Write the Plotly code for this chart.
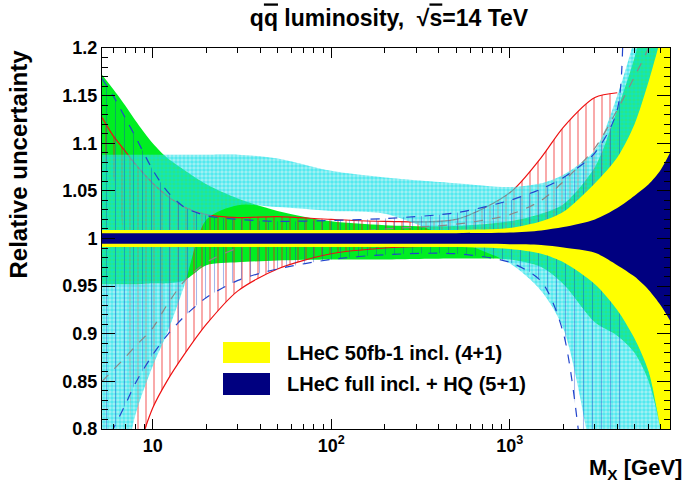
import math
import plotly.graph_objects as go

# Dilepton-mass grid (GeV) on which the relative uncertainties are given
mass = [5.2, 6, 7, 8, 10, 12, 15, 20, 30, 50, 100, 200, 500,
        1000, 1500, 2000, 3000, 4000, 5000, 6000, 7000, 7900]

# LHeC full inclusive + heavy-quark fit (5+1)
full_hi = [1.0056] * 13 + [1.0062, 1.0085, 1.012, 1.020, 1.032, 1.045, 1.057, 1.072, 1.090]
full_lo = [0.9944] * 13 + [0.9940, 0.9932, 0.9905, 0.985, 0.972, 0.960, 0.946, 0.930, 0.914]

# LHeC 50 fb-1 inclusive fit (4+1)
lhec50_hi = [1.009] * 13 + [1.011, 1.018, 1.028, 1.058, 1.085, 1.120, 1.165, 1.210, 1.250]
lhec50_lo = [0.991] * 13 + [0.989, 0.984, 0.975, 0.952, 0.925, 0.895, 0.860, 0.800, 0.750]

# Global PDF sets shown for comparison
green_hi = [1.172, 1.157, 1.140, 1.124, 1.100, 1.085, 1.072, 1.057, 1.042, 1.029, 1.018,
            1.014, 1.013, 1.018, 1.026, 1.036, 1.075, 1.135, 1.190, 1.250, 1.300, 1.350]
green_lo = [0.952, 0.952, 0.952, 0.952, 0.953, 0.953, 0.956, 0.972, 0.975, 0.977, 0.978,
            0.978, 0.979, 0.978, 0.970, 0.952, 0.912, 0.898, 0.880, 0.850, 0.800, 0.750]

cyan_hi = [1.088, 1.088, 1.088, 1.088, 1.088, 1.088, 1.088, 1.088, 1.088, 1.084, 1.071,
           1.064, 1.058, 1.054, 1.058, 1.067, 1.093, 1.150, 1.210, 1.270, 1.330, 1.380]
cyan_lo = [0.600, 0.680, 0.760, 0.815, 0.866, 0.900, 0.950, 1.020, 1.035, 1.033, 1.029,
           1.026, 0.998, 0.974, 0.945, 0.905, 0.750, 0.600, 0.500, 0.450, 0.400, 0.350]

red_mass = mass[:18]
red_hi = [1.127, 1.108, 1.092, 1.078, 1.058, 1.045, 1.033, 1.025, 1.022, 1.023, 1.020,
          1.018, 1.020, 1.048, 1.085, 1.117, 1.148, 1.153]
red_lo = [1.085, 1.065, 0.990, 0.770, 0.822, 0.850, 0.878, 0.910, 0.945, 0.968, 0.984,
          0.990, 0.993, 0.995, 0.995, 0.995, 0.995, 0.995]

blue_mass = mass[:18] + [4300]
blue_hi = [1.168, 1.150, 1.127, 1.107, 1.072, 1.050, 1.033, 1.024, 1.020, 1.018, 1.019,
           1.021, 1.027, 1.040, 1.052, 1.064, 1.090, 1.135, 1.300]
blue_lo = [0.780, 0.800, 0.825, 0.848, 0.878, 0.898, 0.918, 0.938, 0.956, 0.968, 0.978,
           0.983, 0.984, 0.975, 0.955, 0.900, 0.650, 0.500, 0.450]

grey_line = [0.850, 0.862, 0.875, 0.887, 0.906, 0.930, 0.955, 0.975, 0.990, 1.000, 1.005,
             1.010, 1.015, 1.025, 1.040, 1.060, 1.095, 1.135, 1.170, 1.200, 1.230, 1.260]

y_ticks = [0.8, 0.85, 0.9, 0.95, 1.0, 1.05, 1.1, 1.15, 1.2]
y_ticktext = ["0.8", "0.85", "0.9", "0.95", "1", "1.05", "1.1", "1.15", "1.2"]
x_ticks = [10, 100, 1000]
x_ticktext = ["10", "10<sup>2</sup>", "10<sup>3</sup>"]

legend_labels = ["LHeC 50fb-1 incl. (4+1)", "LHeC full incl. + HQ (5+1)"]

FONT = "Liberation Sans"
SPLINE = dict(shape="spline", smoothing=0.8)
fig = go.Figure()


def add_fill(xs, lo, hi, fillcolor=None, pattern=None):
    nol = dict(width=0, color="rgba(0,0,0,0)", **SPLINE)
    fig.add_trace(go.Scatter(x=xs, y=lo, mode="lines", line=nol,
                             showlegend=False, hoverinfo="skip"))
    kw = dict(x=xs, y=hi, mode="lines", line=nol, fill="tonexty",
              showlegend=False, hoverinfo="skip")
    if pattern:
        kw["fillpattern"] = pattern
        kw["fillcolor"] = "rgba(0,0,0,0)"
    else:
        kw["fillcolor"] = fillcolor
    fig.add_trace(go.Scatter(**kw))


def add_edge(xs, ys, color, dash="solid", width=1.2):
    fig.add_trace(go.Scatter(x=xs, y=ys, mode="lines", showlegend=False, hoverinfo="skip",
                             line=dict(color=color, width=width, dash=dash, **SPLINE)))


add_fill(mass, green_lo, green_hi, fillcolor="#00ee22")

add_fill(red_mass, red_lo, red_hi,
         pattern=dict(shape="|", fgcolor="#ee1111", bgcolor="rgba(0,0,0,0)", size=8, solidity=0.18))
add_edge(red_mass, red_hi, "#ee1111")
add_edge(red_mass[3:], red_lo[3:], "#ee1111")

add_fill(mass, cyan_lo, cyan_hi,
         pattern=dict(shape=".", fgcolor="#00e4ec", bgcolor="rgba(80,225,232,0.5)", size=4, solidity=0.62))

add_fill(blue_mass, blue_lo, blue_hi,
         pattern=dict(shape="|", fgcolor="rgba(20,60,200,0.75)", bgcolor="rgba(0,0,0,0)", size=9, solidity=0.12))
add_edge(blue_mass, blue_hi, "#2244cc", dash="dash")
add_edge(blue_mass, blue_lo, "#2244cc", dash="dash")

add_edge(mass, grey_line, "#888888", dash="dash")

add_fill(mass, lhec50_lo, lhec50_hi, fillcolor="#ffff00")
add_fill(mass, full_lo, full_hi, fillcolor="#000080")

axis_font = dict(family=FONT, size=18, color="black")
minor_x = [6, 7, 8, 9] + [k * 10 for k in range(2, 10)] + [k * 100 for k in range(2, 10)] + \
          [k * 1000 for k in range(2, 8)]
minor_y = [round(0.8 + 0.01 * k, 2) for k in range(41)]

fig.update_xaxes(type="log", range=[math.log10(5.2), math.log10(7900)],
                 tickmode="array", tickvals=x_ticks, ticktext=["<b>%s</b>" % t for t in x_ticktext],
                 ticks="inside", ticklen=10, tickwidth=1, tickcolor="black",
                 showline=True, linecolor="black", linewidth=1, mirror="ticks",
                 showgrid=False, zeroline=False, tickfont=axis_font,
                 minor=dict(tickmode="array", tickvals=minor_x, ticks="inside",
                            ticklen=5, tickcolor="black", showgrid=False))
fig.update_yaxes(range=[0.8, 1.2], tickmode="array", tickvals=y_ticks,
                 ticktext=["<b>%s</b>" % t for t in y_ticktext],
                 ticks="inside", ticklen=13, tickwidth=1, tickcolor="black",
                 showline=True, linecolor="black", linewidth=1, mirror="ticks",
                 showgrid=False, zeroline=False, tickfont=axis_font,
                 minor=dict(tickmode="array", tickvals=minor_y, ticks="inside",
                            ticklen=6, tickcolor="black", showgrid=False))

# hand-drawn legend in the lower middle of the frame
W, H, L, T = 692, 484, 102, 48
PW, PH = 670 - L, 429 - T


def px(xp):
    return (xp - L) / PW


def py(yp):
    return (429 - yp) / PH


for (y0, y1), col, label in zip([(342, 363), (373, 395)], ["#ffff00", "#000080"], legend_labels):
    fig.add_shape(type="rect", xref="paper", yref="paper", x0=px(223), x1=px(270),
                  y0=py(y1), y1=py(y0), fillcolor=col, line=dict(width=0), layer="above")
    fig.add_annotation(xref="paper", yref="paper", x=px(285), y=py((y0 + y1) / 2),
                       xanchor="left", yanchor="middle", showarrow=False, text="<b>%s</b>" % label,
                       font=dict(family=FONT, size=20, color="black"))

fig.add_annotation(xref="paper", yref="paper", x=px(18), y=1.0, xanchor="center", yanchor="top",
                   textangle=-90, showarrow=False, text="<b>Relative uncertainty</b>",
                   font=dict(family=FONT, size=24, color="black"))
fig.add_annotation(xref="paper", yref="paper", x=px(684), y=py(469), xanchor="right",
                   yanchor="middle", showarrow=False, text="<b>M<sub>X</sub> [GeV]</b>",
                   font=dict(family=FONT, size=22, color="black"))

fig.update_layout(
    width=W, height=H,
    margin=dict(l=L, r=W - 670, t=T, b=H - 429),
    paper_bgcolor="white", plot_bgcolor="white",
    title=dict(text="<b>q<span style='text-decoration:overline'>q</span> luminosity,  "
                    "√<span style='text-decoration:overline'>s</span>=14 TeV</b>",
               x=(389 / W), xanchor="center", y=0.962, yanchor="middle",
               font=dict(family=FONT, size=23, color="black")),
)

fig.write_html("out.html")
